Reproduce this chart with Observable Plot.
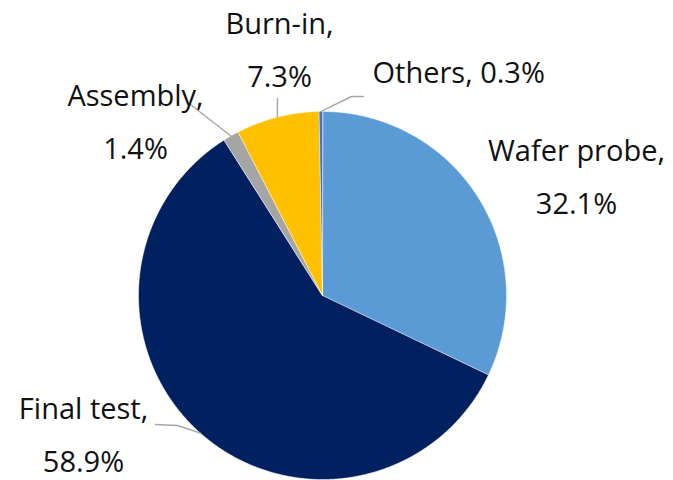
<!DOCTYPE html>
<html>
<head>
<meta charset="utf-8">
<script src="https://cdn.jsdelivr.net/npm/d3@7"></script>
<script src="https://cdn.jsdelivr.net/npm/@observablehq/plot@0.6"></script>
<style>
  html, body { margin: 0; padding: 0; background: #fff; }
  #chart svg { display: block; }
</style>
</head>
<body>
<div id="chart"></div>
<script>
// Share of test cost by stage (percent), clockwise from 12 o'clock
const categories = ["Wafer probe", "Final test", "Assembly", "Burn-in", "Others"];
const shares = [32.1, 58.9, 1.4, 7.3, 0.3];
const sliceColors = ["#5B9BD5", "#002060", "#A5A5A5", "#FFC000", "#4472C4"];

// Page layout (pixels)
const W = 673, H = 480;
const CX = 322, CY = 295, R = 184;

// Label placement: centre x, baseline of the last line, anchor, line break
const labelLayout = {
  "Wafer probe": {x: 576, y: 213, anchor: "middle", split: true},
  "Final test":  {x: 83,  y: 471, anchor: "middle", split: true},
  "Assembly":    {x: 135, y: 158, anchor: "middle", split: true},
  "Burn-in":     {x: 279, y: 86,  anchor: "middle", split: true},
  "Others":      {x: 372, y: 82,  anchor: "start",  split: false}
};
// Leader line bends, from the pie edge towards the label
const leaderLayout = {
  "Final test": [[177, 425], [155, 424]],
  "Assembly":   [[190, 104]],
  "Burn-in":    [[277, 98]],
  "Others":     [[351, 96], [363, 96]]
};

// Angles from d3.pie (clockwise from top, in radians)
const pie = d3.pie().sort(null).value((d) => d.share);
const rows = categories.map((c, i) => ({category: c, share: shares[i]}));
const arcs = pie(rows);

// Position relative to the pie centre, y pointing down
const polar = (a, r) => ({x: r * Math.sin(a), y: -r * Math.cos(a)});
const rel = ([px, py]) => ({x: px - CX, y: py - CY});

// Slice outlines: centre, then points along the arc
const slicePoints = arcs.flatMap((a) => {
  const n = Math.max(2, Math.ceil((a.endAngle - a.startAngle) / (Math.PI / 360)));
  const pts = [{category: a.data.category, ...polar(0, 0)}];
  for (let k = 0; k <= n; k++) {
    const t = a.startAngle + (a.endAngle - a.startAngle) * k / n;
    pts.push({category: a.data.category, ...polar(t, R)});
  }
  return pts;
});

// Leader lines start at each slice's mid angle on the rim
const leaderPoints = arcs.flatMap((a) => {
  const bends = leaderLayout[a.data.category];
  if (!bends) return [];
  const mid = (a.startAngle + a.endAngle) / 2;
  return [{category: a.data.category, ...polar(mid, R)},
          ...bends.map((b) => ({category: a.data.category, ...rel(b)}))];
});

// Label text uses the same share values as the slices
const labels = arcs.map((a) => {
  const c = a.data.category;
  const L = labelLayout[c];
  const value = `${a.data.share.toFixed(1)}%`;
  return {
    category: c,
    ...rel([L.x, L.y]),
    anchor: L.anchor,
    text: L.split ? `${c},\n${value}` : `${c}, ${value}`
  };
});

const font = "'Open Sans', 'Noto Sans', 'DejaVu Sans', sans-serif";

const chart = Plot.plot({
  width: W,
  height: H,
  margin: 0,
  x: {domain: [-CX, W - CX], range: [0, W], axis: null},
  y: {domain: [-CY, H - CY], range: [0, H], axis: null},
  color: {domain: categories, range: sliceColors},
  marks: [
    ...categories.map((c) =>
      Plot.line(slicePoints.filter((d) => d.category === c), {
        x: "x", y: "y",
        fill: sliceColors[categories.indexOf(c)],
        stroke: "white", strokeWidth: 0.5,
        curve: "linear-closed"
      })
    ),
    Plot.line(leaderPoints, {
      x: "x", y: "y", z: "category",
      stroke: "#A6A6A6", strokeWidth: 1.4
    }),
    Plot.text(labels.filter((d) => d.anchor === "middle"), {
      x: "x", y: "y", text: "text",
      textAnchor: "middle", lineAnchor: "bottom", lineHeight: 1.8,
      fontSize: 29, fontFamily: font, fill: "#111"
    }),
    Plot.text(labels.filter((d) => d.anchor === "start"), {
      x: "x", y: "y", text: "text",
      textAnchor: "start", lineAnchor: "bottom",
      fontSize: 29, fontFamily: font, fill: "#111"
    })
  ]
});

document.getElementById("chart").appendChild(chart);
</script>
</body>
</html>
